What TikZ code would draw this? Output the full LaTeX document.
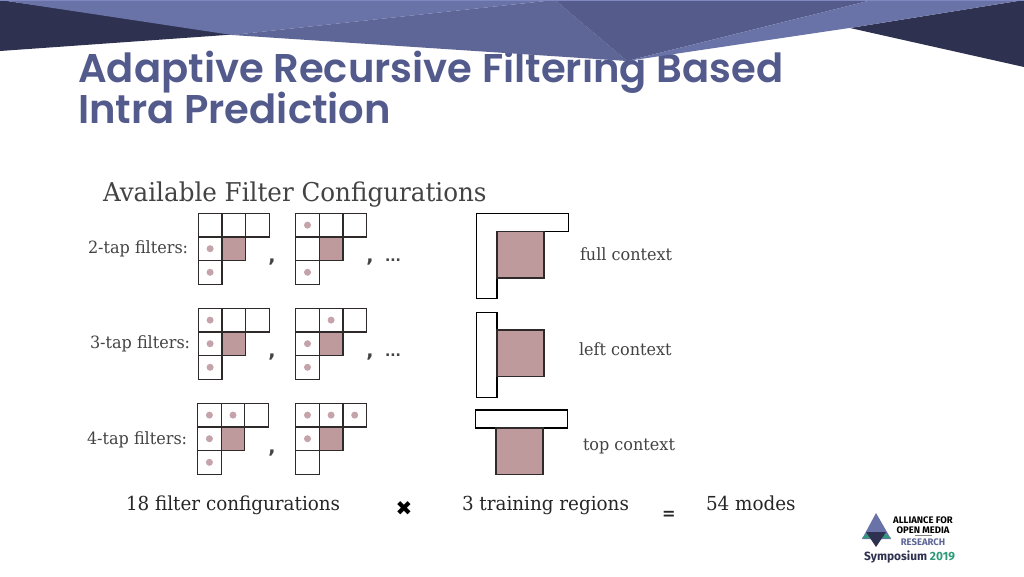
\documentclass[tikz,border=0pt]{standalone}
\usepackage{fontspec}
\setmainfont{DejaVu Serif}
\newfontfamily\slab[FakeStretch=0.95]{DejaVu Serif}
\newfontfamily\titlefont[BoldFont={Poppins SemiBold}]{Poppins}
\newfontfamily\logofont{Fira Sans}
\newfontfamily\symfont{DejaVu Sans}
\definecolor{titleblue}{HTML}{535A8C}
\definecolor{bandlight}{HTML}{6A73A8}
\definecolor{bandmid}{HTML}{5E6697}
\definecolor{banddark}{HTML}{555B8B}
\definecolor{bandnavy}{HTML}{2E3150}
\definecolor{bandtop}{HTML}{7F88C0}
\definecolor{targetfill}{HTML}{BE9A9C}
\definecolor{dotfill}{HTML}{C4A3AA}
\definecolor{gridline}{HTML}{2E2A2A}
\definecolor{bodytext}{HTML}{434343}
\definecolor{logogreen}{HTML}{2E9A78}
\tikzset{
  x=1pt,y=-1pt,
  cellbox/.style={draw=gridline,line width=1.2pt,fill=white},
  targetbox/.style={draw=gridline,line width=1.2pt,fill=targetfill},
  contextbox/.style={draw=black,line width=1.2pt,fill=white},
  label/.style={anchor=base west,inner sep=0pt,outer sep=0pt,text=bodytext,font=\slab\fontsize{16.9}{20}\selectfont},
  bottomlabel/.style={label,text=black!85,font=\slab\fontsize{19.3}{24}\selectfont},
  mark text/.style={anchor=base,inner sep=0pt,text=bodytext},
  logotext/.style={anchor=base,inner sep=0pt,font=\logofont\bfseries\fontsize{9.5}{11}\selectfont},
  titletext/.style={anchor=base west,inner sep=0pt,text=titleblue,font=\titlefont\bfseries\fontsize{40.1}{48}\selectfont},
}
\newcommand{\filtergrid}[3]{%
  \begin{scope}[shift={(#1,#2)}]
    \foreach \cx/\cy in {0/0,1/0,2/0,0/1,0/2}
      \draw[cellbox] (\cx*23.6,\cy*23.6) rectangle ++(23.6,23.6);
    \draw[targetbox] (23.6,23.6) rectangle ++(23.6,23.6);
    \foreach \cx/\cy in {#3}
      \fill[dotfill] (\cx*23.6+11.8,\cy*23.6+11.8) circle (3.5);
  \end{scope}}
\begin{document}
\begin{tikzpicture}
\useasboundingbox (0,0) rectangle (1024,576);
\fill[white] (0,0) rectangle (1024,576);
% title beneath banner
\node[titletext] (titleA) at (78,82) {Adaptive Recursive Filtering Based};
\node[titletext] (titleB) at (78,123) {Intra Prediction};
% banner
\fill[bandnavy] (0,0) -- (240,34) -- (0,51) -- cycle;
\fill[bandnavy] (1024,0) -- (850,28) -- (1024,67) -- cycle;
\fill[bandlight] (0,0) -- (232,35) -- (555,0) -- cycle;
\fill[bandmid] (232,35) -- (555,0) -- (627,61) -- cycle;
\fill[banddark] (555,0) -- (872,0) -- (627,61) -- cycle;
\fill[bandlight] (872,0) -- (1024,0) -- (856,27) -- (627,61) -- cycle;
\fill[bandtop] (0,0) rectangle (1024,1);
% heading
\node[label,font=\slab\fontsize{25.9}{30}\selectfont] (heading) at (103,201) {Available Filter Configurations};
% row labels
\node[label] (tapA) at (88,253) {2-tap filters:};
\node[label] (tapB) at (90,348) {3-tap filters:};
\node[label] (tapC) at (87,444) {4-tap filters:};
% filter grids
\filtergrid{198.3}{213.3}{0/1,0/2}
\filtergrid{295.7}{213.3}{0/0,0/2}
\filtergrid{198.3}{308.3}{0/0,0/1,0/2}
\filtergrid{295.7}{308.3}{1/0,0/1,0/2}
\filtergrid{197.6}{403.3}{0/0,1/0,0/1,0/2}
\filtergrid{295.7}{403.3}{0/0,1/0,2/0,0/1}
% separators
\foreach \sx/\sy/\nm in {272/262/a,370/262/b,272/357/c,370/357/d,272/453/e}
  \node[mark text,font=\symfont\bfseries\fontsize{19}{22}\selectfont] (comma\nm) at (\sx,\sy) {,};
\foreach \sy/\nm in {261/a,356/b}
  \node[mark text,font=\symfont\bfseries\fontsize{14}{16}\selectfont] (dots\nm) at (393,\sy) {...};
% full context
\draw[contextbox] (476.7,213.7) -- (568.3,213.7) -- (568.3,231.3) -- (497,231.3) -- (497,298.7) -- (476.7,298.7) -- cycle;
\draw[targetbox] (497,231.3) rectangle (544,278);
% left context
\draw[contextbox] (476.3,312.3) rectangle (497,397.3);
\draw[targetbox] (497,330) rectangle (544,376.3);
% top context
\draw[contextbox] (475.5,410) rectangle (567.5,428);
\draw[targetbox] (496,428) rectangle (543,474.5);
% context labels
\node[label] (fullc) at (580,260) {full context};
\node[label] (leftc) at (579,355) {left context};
\node[label] (topc) at (583,450) {top context};
% bottom line
\node[bottomlabel] (cfg) at (126,510) {18 filter configurations};
\node[mark text,text=black,font=\symfont\fontsize{20}{22}\selectfont] (times) at (404,515) {✖};
\node[bottomlabel] (reg) at (462,510) {3 training regions};
\node[mark text,text=black!85,font=\slab\bfseries\fontsize{17}{20}\selectfont] (eq) at (669,519) {=};
\node[bottomlabel] (modes) at (706,510) {54 modes};
% logo
\fill[bandlight] (876,513) -- (891,539) -- (862,539) -- cycle;
\fill[logogreen] (862,538) -- (869,532) -- (883,532) -- (891,538) -- cycle;
\fill[bandnavy] (866,532) -- (886,532) -- (876,547) -- cycle;
\node[logotext,text=black] (logoA) at (923,523) {ALLIANCE FOR};
\node[logotext,text=black] (logoB) at (923,533) {OPEN MEDIA};
\draw[gray,line width=0.5pt] (915,535) -- (932,535);
\node[logotext,text=bandmid] (logoC) at (923,545) {RESEARCH};
\node[logotext,text=bandnavy,anchor=base west,font=\logofont\bfseries\fontsize{11.9}{14}\selectfont] (logoD) at (864,560) {Symposium \textcolor{logogreen}{2019}};
\end{tikzpicture}
\end{document}
